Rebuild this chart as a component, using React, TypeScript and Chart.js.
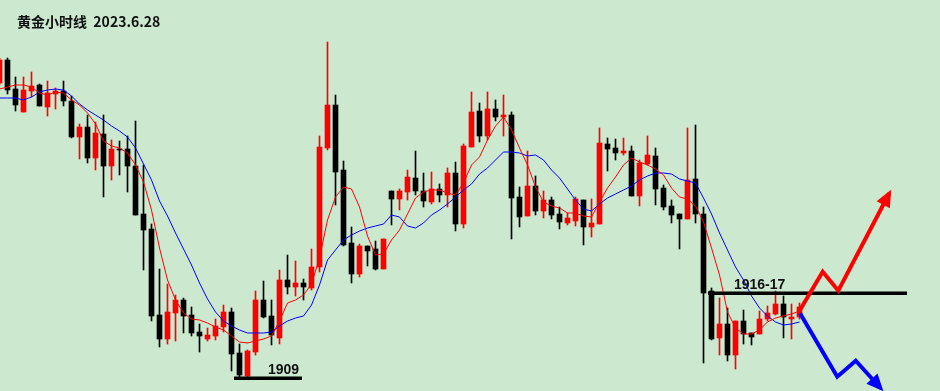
import { useEffect, useRef } from 'react';
import { Chart, registerables } from 'chart.js';

Chart.register(...registerables);

const title = '黄金小时线  2023.6.28';

// hourly candles, index -1 .. 99
const firstIndex = -1;
const opens = [
  1933.36, 1935.2, 1932.88, 1931.04, 1932.72, 1933.2, 1931.44, 1932.48, 1932.72, 1931.92,
  1929.04, 1929.84, 1927.36, 1929.28, 1926.72, 1928.08, 1928.08, 1926.72, 1922.88, 1921.68,
  1914.8, 1912.88, 1914.96, 1916, 1914.8, 1913.44, 1912.88, 1913.12, 1913.84, 1915.04,
  1911.76, 1909.92, 1911.84, 1916, 1914.72, 1912.96, 1917.6, 1917.04, 1917.36, 1916.96,
  1918.64, 1928.16, 1931.6, 1926.4, 1920.56, 1918.08, 1920.32, 1920.08, 1918.48, 1924.72,
  1924.08, 1924.64, 1925.76, 1924.72, 1923.84, 1924.88, 1924.4, 1926.16, 1922.08, 1928.24,
  1931.12, 1929.12, 1931.28, 1930.64, 1930.8, 1924.24, 1922.72, 1925.12, 1923.12, 1924,
  1922.88, 1922.16, 1922.32, 1924, 1921.84, 1922.08, 1928.48, 1928.16, 1927.76, 1927.92,
  1924.32, 1926.88, 1927.52, 1924.96, 1923.52, 1922.88, 1922.48, 1925.68, 1922.88, 1916.72,
  1912.96, 1914.08, 1911.6, 1914.32, 1913.36, 1913.28, 1914.48, 1914.88, 1915.68, 1914.48,
  1914.64,
];
const highs = [
  1935.36, 1935.36, 1933.84, 1933.84, 1934.24, 1933.28, 1933.52, 1932.96, 1933.52, 1932.32,
  1930.08, 1930.8, 1930.24, 1930.8, 1928.8, 1928.72, 1929.12, 1930.32, 1926.8, 1922.08,
  1918.48, 1917.28, 1916.4, 1916.16, 1915.44, 1914.08, 1913.76, 1914.48, 1915.6, 1915.36,
  1912.48, 1912, 1916.72, 1917.52, 1916, 1918.4, 1919.6, 1919.12, 1917.68, 1920.08,
  1929.12, 1936.64, 1932.4, 1927.12, 1921.84, 1920.48, 1920.32, 1920.72, 1920.88, 1924.72,
  1924.88, 1926.4, 1927.92, 1926.16, 1926.24, 1925.28, 1926.56, 1927.04, 1928.48, 1932.64,
  1931.76, 1932.64, 1932, 1932.4, 1931.04, 1925.04, 1927.92, 1925.92, 1924.72, 1924.24,
  1923.44, 1922.96, 1924.24, 1924, 1924.08, 1929.76, 1928.96, 1928.88, 1928.96, 1928.32,
  1927.2, 1929.12, 1928.16, 1925.2, 1924, 1922.88, 1929.76, 1930, 1923.44, 1916.96,
  1916.16, 1915.36, 1914.32, 1915.2, 1913.36, 1915.12, 1915.52, 1916.72, 1916.32, 1915.68,
  1915.76,
];
const lows = [
  1933.2, 1932.48, 1931.12, 1931.04, 1932.24, 1931.52, 1930.72, 1931.28, 1931.52, 1928.96,
  1927.28, 1926.96, 1926.4, 1924.24, 1925.6, 1926, 1924.64, 1922.8, 1918.4, 1914.32,
  1912.24, 1912.48, 1912.72, 1913.36, 1913.12, 1911.84, 1912.72, 1912.8, 1913.44, 1910.32,
  1909.84, 1909.84, 1911.6, 1914.56, 1912.4, 1912.48, 1916.48, 1916.32, 1916, 1916.8,
  1918.24, 1928, 1923.6, 1920.32, 1917.36, 1917.84, 1918.72, 1918.4, 1918.48, 1922,
  1923.2, 1924, 1924.4, 1923.44, 1923.68, 1923.84, 1923.44, 1921.52, 1921.76, 1928.24,
  1928.64, 1928.8, 1930.32, 1929.12, 1920.88, 1921.84, 1922.72, 1922.8, 1922.56, 1922.48,
  1921.68, 1922, 1921.92, 1920.4, 1921.04, 1922.08, 1926.32, 1927.2, 1927.6, 1924.32,
  1923.52, 1926.8, 1923.6, 1923.2, 1922.16, 1920.08, 1922.48, 1922.16, 1910.96, 1912.8,
  1911.6, 1911.12, 1910.48, 1912.48, 1912.4, 1913.28, 1914.32, 1914.8, 1912.96, 1912.88,
  1914.48,
];
const closes = [
  1935.2, 1932.8, 1931.6, 1932.8, 1933.12, 1931.52, 1932.56, 1932.72, 1931.92, 1929.04,
  1929.84, 1927.36, 1929.36, 1926.72, 1928.08, 1928, 1926.72, 1922.8, 1921.6, 1914.72,
  1912.88, 1915.04, 1916, 1914.72, 1913.36, 1913.12, 1913.2, 1913.92, 1915.04, 1911.68,
  1910, 1911.92, 1916, 1914.64, 1913.2, 1917.6, 1917.04, 1917.36, 1917.04, 1918.64,
  1928.24, 1931.6, 1926.24, 1920.4, 1918.08, 1920.32, 1919.92, 1918.48, 1920.88, 1924.08,
  1924.72, 1925.84, 1924.72, 1923.92, 1924.88, 1924.4, 1926.16, 1922.08, 1928.32, 1931.04,
  1929.12, 1931.28, 1930.64, 1930.8, 1924.16, 1922.64, 1925.12, 1923.12, 1924, 1922.8,
  1922.24, 1922.56, 1924.08, 1921.84, 1922.16, 1928.56, 1928.08, 1927.76, 1927.92, 1924.32,
  1926.96, 1927.6, 1924.88, 1923.44, 1922.8, 1922.48, 1925.6, 1922.88, 1916.56, 1912.88,
  1914.08, 1911.6, 1914.32, 1913.28, 1913.04, 1914.48, 1914.96, 1915.68, 1914.64, 1914.64,
  1915.44,
];
// moving averages (fast = red, slow = blue)
const maFast = [
  1932.88, 1933.04, 1933.2, 1933.2, 1933.04, 1932.56, 1932.4, 1932.64, 1932.56, 1932,
  1931.6, 1930.96, 1930.1, 1928.72, 1928.32, 1928.16, 1927.76, 1926.8, 1925.44, 1923.2,
  1920.16, 1917.6, 1916, 1914.96, 1914.48, 1914.4, 1914.16, 1913.84, 1913.6, 1913.12,
  1912.64, 1912.56, 1912.72, 1912.88, 1913.12, 1914.32, 1915.76, 1916, 1916.4, 1917.28,
  1919.36, 1922.4, 1924.24, 1925.04, 1924.88, 1923.44, 1921.12, 1919.6, 1919.68, 1920.8,
  1921.6, 1922.88, 1924.16, 1924.64, 1924.8, 1924.8, 1924.56, 1924.4, 1925.36, 1926.8,
  1927.44, 1928.8, 1929.92, 1930.64, 1929.6, 1928.16, 1926.8, 1925.04, 1923.84, 1923.52,
  1923.36, 1922.96, 1922.96, 1922.72, 1922.64, 1923.84, 1924.96, 1925.84, 1926.8, 1927.36,
  1927.04, 1926.8, 1926.48, 1926, 1924.96, 1924.24, 1924.08, 1923.52, 1922.24, 1920.16,
  1918, 1915.04, 1913.76, 1913.28, 1913.28, 1913.6, 1914.24, 1914.56, 1914.72, 1914.88,
  1915.12,
];
const maSlow = [
  1932.16, 1932.16, 1932.16, 1932, 1932.24, 1932.64, 1932.8, 1932.88, 1932.8, 1932.32,
  1931.68, 1931.2, 1930.8, 1930.4, 1929.92, 1929.52, 1929.04, 1928.16, 1926.88, 1925.6,
  1923.92, 1922.72, 1921.36, 1920.08, 1918.8, 1917.36, 1916.08, 1915.04, 1914.32, 1913.92,
  1913.6, 1913.36, 1913.36, 1913.36, 1913.44, 1913.92, 1914.32, 1914.56, 1914.72, 1915.6,
  1917.2, 1919.2, 1920, 1920.8, 1921.2, 1921.52, 1921.76, 1921.92, 1922.08, 1922.8,
  1922.64, 1921.92, 1921.76, 1922.16, 1922.8, 1923.2, 1923.68, 1924.24, 1924.8, 1925.28,
  1926.08, 1926.56, 1927.2, 1927.84, 1927.84, 1927.76, 1927.52, 1927.6, 1927.2, 1926.4,
  1925.76, 1924.88, 1924, 1923.28, 1923.12, 1923.68, 1924.16, 1924.48, 1924.8, 1925.12,
  1925.6, 1925.92, 1926.16, 1926.16, 1926.08, 1925.68, 1925.52, 1925.36, 1924.16, 1922.88,
  1921.36, 1920, 1918.64, 1917.6, 1916.32, 1915.36, 1914.72, 1914.24, 1914, 1914.08,
  1914.24,
];

// annotations
const upArrowX = [99.06, 101.9, 103.85, 110.22];
const upArrowY = [1915.2, 1918.26, 1916.74, 1924.54];
const downArrowX = [99.06, 103.72, 106.03, 109.15];
const downArrowY = [1914.94, 1909.86, 1911.14, 1908.94];
const supportX = [28.31, 36.81];
const supportLevel = 1909.74;
const resistanceX = [87.56, 112.44];
const resistanceLevel = 1916.54;
const levelLabels = [
  { text: '1909', x: 32.56, y: 1910.08 },
  { text: '1916-17', x: 90.81, y: 1916.86 },
];

const X_MIN = -0.9375;
const X_MAX = 116.5625;
const Y_MIN = 1908.72;
const Y_MAX = 1940;

const RED = '#ff0000';
const BLACK = '#000000';
const BLUE = '#0000ff';

const annotatePlugin = {
  id: 'annotate',
  afterDatasetsDraw(chart: any) {
    const ctx = chart.ctx;
    const xs = chart.scales.x;
    const ys = chart.scales.y;
    chart.data.datasets.forEach((ds: any, i: number) => {
      if (!ds.arrowHead) return;
      const pts = chart.getDatasetMeta(i).data;
      const a = pts[pts.length - 2];
      const b = pts[pts.length - 1];
      const dx = b.x - a.x;
      const dy = b.y - a.y;
      const len = Math.hypot(dx, dy) || 1;
      const ux = dx / len;
      const uy = dy / len;
      const tipX = b.x + ux * 4;
      const tipY = b.y + uy * 4;
      const L = 17;
      const W = 7.5;
      const bx = tipX - ux * L;
      const by = tipY - uy * L;
      ctx.save();
      ctx.fillStyle = ds.borderColor;
      ctx.beginPath();
      ctx.moveTo(tipX, tipY);
      ctx.lineTo(bx - uy * W, by + ux * W);
      ctx.lineTo(bx + uy * W, by - ux * W);
      ctx.closePath();
      ctx.fill();
      ctx.restore();
    });
    ctx.save();
    ctx.fillStyle = '#111';
    ctx.font = 'bold 14px "Liberation Sans", Arial, sans-serif';
    ctx.textAlign = 'left';
    ctx.textBaseline = 'alphabetic';
    levelLabels.forEach((l) => {
      ctx.fillText(l.text, xs.getPixelForValue(l.x), ys.getPixelForValue(l.y));
    });
    ctx.restore();
  },
};

export default function App() {
  const ref = useRef<HTMLCanvasElement>(null);

  useEffect(() => {
    const idx = opens.map((_, i) => i + firstIndex);
    const colors = opens.map((o, i) => (closes[i] > o ? RED : BLACK));
    const lineDs = (xs: number[], ys: number[], color: string, width: number, extra: any = {}) => ({
      type: 'line',
      data: xs.map((x, i) => ({ x, y: ys[i] })),
      borderColor: color,
      backgroundColor: color,
      borderWidth: width,
      pointRadius: 0,
      tension: 0,
      borderJoinStyle: 'miter',
      fill: false,
      ...extra,
    });

    const chart = new Chart(ref.current as HTMLCanvasElement, {
      type: 'bar',
      data: {
        datasets: [
          {
            type: 'bar',
            label: 'wick',
            data: idx.map((x, i) => ({ x, y: [lows[i], highs[i]] })),
            backgroundColor: colors,
            borderWidth: 0,
            barThickness: 1,
            grouped: false,
            order: 5,
          },
          {
            type: 'bar',
            label: 'body',
            data: idx.map((x, i) => ({ x, y: [opens[i], closes[i]] })),
            backgroundColor: colors,
            borderWidth: 0,
            barThickness: 5,
            grouped: false,
            order: 4,
          },
          lineDs(idx, maFast, RED, 1, { label: 'MA fast', order: 3 }),
          lineDs(idx, maSlow, BLUE, 1, { label: 'MA slow', order: 3 }),
          lineDs(supportX, [supportLevel, supportLevel], BLACK, 3.5, { label: 'support', order: 2 }),
          lineDs(resistanceX, [resistanceLevel, resistanceLevel], BLACK, 3.5, { label: 'resistance', order: 2 }),
          lineDs(upArrowX, upArrowY, RED, 4, { label: 'up', order: 1, arrowHead: true }),
          lineDs(downArrowX, downArrowY, BLUE, 4, { label: 'down', order: 1, arrowHead: true }),
        ] as any,
      },
      options: {
        responsive: false,
        devicePixelRatio: 1,
        animation: false,
        events: [],
        layout: { padding: 0 },
        plugins: { legend: { display: false }, tooltip: { enabled: false }, title: { display: false } },
        scales: {
          x: { type: 'linear', min: X_MIN, max: X_MAX, offset: false, display: false, grid: { offset: false } },
          y: { type: 'linear', min: Y_MIN, max: Y_MAX, display: false },
        },
      } as any,
      plugins: [annotatePlugin],
    });
    return () => chart.destroy();
  }, []);

  return (
    <div
      style={{
        position: 'fixed',
        left: 0,
        top: 0,
        width: 940,
        height: 391,
        background: '#cce8cf',
        overflow: 'hidden',
      }}
    >
      <canvas
        ref={ref}
        width={940}
        height={391}
        style={{ position: 'absolute', left: 0, top: 0, width: 940, height: 391 }}
      />
      <div
        style={{
          position: 'absolute',
          left: 17,
          top: 14,
          font: 'bold 14px "Noto Sans CJK SC", sans-serif',
          lineHeight: '14px',
          whiteSpace: 'pre',
          color: '#111',
        }}
      >
        {title}
      </div>
    </div>
  );
}
